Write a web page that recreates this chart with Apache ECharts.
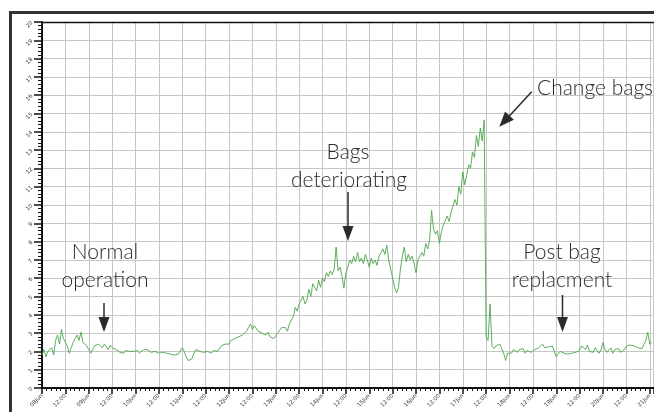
<!DOCTYPE html>
<html>
<head>
<meta charset="utf-8">
<script src="https://cdn.jsdelivr.net/npm/echarts@6/dist/echarts.min.js"></script>
<style>
html,body{margin:0;padding:0;background:#fff;}
#chart{width:654px;height:412px;}
</style>
</head>
<body>
<div id="chart"></div>
<script>
// Hourly readings, one array per day starting 08 Jun 00:00
const day08 = [1.8,2.1,1.7,2.0,1.9,2.2,1.8,2.6,2.9,2.4,3.2,2.7,2.5,2.3,1.9,2.2,2.5,2.7,2.9,2.6,3.05,2.5,2.4,2.3];
const day09 = [2.1,1.9,2.0,2.3,2.2,2.4,2.3,2.2,2.4,2.3,2.1,2.35,2.2,2.3,2.1,2.2,1.95,2.0,1.9,2.05,1.95,2.0,1.9,2.0];
const day10 = [1.95,2.05,1.9,2.0,2.1,2.15,2.1,2.0,1.95,1.9,2.0,1.95,1.9,2.0,1.95,2.0,1.9,1.95,1.85,1.8,1.8,1.75,1.85,1.8];
const day11 = [2.2,2.0,1.7,1.5,1.4,1.6,1.9,2.1,2.2,2.0,2.1,1.95,1.9,2.0,1.95,1.9,2.05,1.95,2.0,2.1,2.3,2.2,2.4,2.35];
const day12 = [2.4,2.6,2.5,2.7,2.6,2.8,2.7,2.9,2.8,3.1,3.3,3.5,3.2,3.4,3.3,3.1,3.2,3.0,3.1,2.9,3.05,2.8,2.9,2.7];
const day13 = [2.6,3.0,2.9,3.3,3.2,3.3,3.1,3.5,3.4,3.9,4.4,4.2,4.6,4.5,5.0,4.6,4.8,5.4,5.0,5.7,5.6,5.3,5.9,5.5];
const day14 = [6.0,5.8,6.3,6.1,6.4,6.2,6.5,7.7,6.4,6.6,6.1,5.45,6.3,6.6,7.0,6.8,7.2,6.9,7.4,6.9,7.1,6.8,7.3,7.0];
const day15 = [6.6,7.1,6.8,7.0,6.7,7.2,7.1,7.6,7.3,7.8,7.0,6.5,6.0,5.5,5.2,5.5,6.5,7.2,7.7,6.9,7.3,7.0,7.2,6.8];
const day16 = [6.3,7.0,6.9,7.4,7.2,7.9,7.6,8.1,9.7,8.7,8.4,8.6,7.9,8.5,8.9,8.8,9.4,9.1,9.6,9.5,10.3,10.0,11.0,10.6];
const day17 = [11.8,11.1,11.6,12.2,12.0,12.9,12.6,13.8,13.2,14.2,13.5,14.65,2.8,2.6,4.6,2.3,2.15,2.3,2.2,2.4,2.3,1.9,1.5,1.9];
const day18 = [2.0,1.9,2.1,2.05,1.95,2.1,2.0,2.15,1.9,2.05,2.1,1.95,2.0,2.1,2.05,2.2,2.1,2.4,2.2,2.3,2.25,2.15,2.3,2.2];
const day19 = [1.7,1.8,2.0,1.95,1.9,2.0,1.85,1.95,1.9,2.0,1.95,1.9,2.05,2.3,2.4,2.1,2.35,2.0,2.1,1.95,2.2,2.05,1.9,2.1];
const day20 = [2.5,2.1,1.95,2.05,2.2,1.9,2.1,2.0,2.15,1.95,2.05,2.1,2.3,2.4,2.35,2.45,2.3,2.4,2.2,2.25,2.15,2.2,2.6,3.05];
const day21 = [2.4,2.5];

const xTickLabels = ['08Jun','12:00','09Jun','12:00','10Jun','12:00','11Jun','12:00','12Jun','12:00','13Jun','12:00','14Jun','12:00','15Jun','12:00','16Jun','12:00','17Jun','12:00','18Jun','12:00','19Jun','12:00','20Jun','12:00','21Jun'];

const values = [].concat(day08,day09,day10,day11,day12,day13,day14,day15,day16,day17,day18,day19,day20,day21);
const seriesData = values.map((v,i)=>[i,v]);

const chart = echarts.init(document.getElementById('chart'), null, {renderer:'canvas'});
const txt = '300 21px Lato';
const dark = '#2b2b2b';
chart.setOption({
  animation:false,
  backgroundColor:'#fff',
  grid:{left:42,right:0,top:22,bottom:24,containLabel:false},
  xAxis:{
    type:'value',min:0,max:314,interval:12,
    axisLine:{show:true,onZero:false,lineStyle:{color:'#111',width:2}},
    axisTick:{show:true,length:6,lineStyle:{color:'#111',width:1.5}},
    minorTick:{show:true,splitNumber:5,length:3,lineStyle:{color:'#111',width:1}},
    axisLabel:{rotate:45,fontSize:5.5,color:'#333',margin:7,fontFamily:'DejaVu Sans',
      formatter:v=>xTickLabels[Math.round(v/12)]||''},
    splitLine:{show:true,lineStyle:{color:'#c6c6c6',width:1}}
  },
  yAxis:{
    type:'value',min:0,max:20,interval:1,
    axisLine:{show:true,lineStyle:{color:'#111',width:2}},
    axisTick:{show:true,length:8,lineStyle:{color:'#111',width:1.5}},
    minorTick:{show:true,splitNumber:5,length:4,lineStyle:{color:'#111',width:1}},
    axisLabel:{show:true,rotate:45,fontSize:5.5,color:'#333',margin:10,fontFamily:'DejaVu Sans'},
    splitLine:{show:true,lineStyle:{color:'#c6c6c6',width:1}}
  },
  series:[{
    type:'line',data:seriesData,showSymbol:false,symbol:'none',
    lineStyle:{color:'#4ea64a',width:1,opacity:0.9},
    z:3
  }],
  graphic:[
    {type:'rect',shape:{x:10.5,y:12.5,width:700,height:500},style:{fill:null,stroke:'#333',lineWidth:3},z:100},
    {type:'line',shape:{x1:42,y1:22.5,x2:654,y2:22.5},style:{stroke:'#111',lineWidth:1.5},z:100},
    // Normal operation
    {type:'text',style:{text:'Normal',x:105,y:252,textAlign:'center',textVerticalAlign:'middle',font:txt,fill:dark},z:100},
    {type:'text',style:{text:'operation',x:105,y:280,textAlign:'center',textVerticalAlign:'middle',font:txt,fill:dark},z:100},
    {type:'line',shape:{x1:104,y1:303,x2:104,y2:320},style:{stroke:dark,lineWidth:1.5},z:100},
    {type:'polygon',shape:{points:[[98.5,317],[109.5,317],[104,332]]},style:{fill:dark},z:100},
    // Bags deteriorating
    {type:'text',style:{text:'Bags',x:348,y:152,textAlign:'center',textVerticalAlign:'middle',font:txt,fill:dark},z:100},
    {type:'text',style:{text:'deteriorating',x:349,y:180,textAlign:'center',textVerticalAlign:'middle',font:txt,fill:dark},z:100},
    {type:'line',shape:{x1:348,y1:192,x2:348,y2:230},style:{stroke:dark,lineWidth:1.5},z:100},
    {type:'polygon',shape:{points:[[342.5,226],[353.5,226],[348,241]]},style:{fill:dark},z:100},
    // Change bags
    {type:'text',style:{text:'Change bags',x:595,y:88,textAlign:'center',textVerticalAlign:'middle',font:txt,fill:dark},z:100},
    {type:'line',shape:{x1:531.7,y1:91.7,x2:507,y2:118.5},style:{stroke:dark,lineWidth:1.5},z:100},
    {type:'polygon',shape:{points:[[513.9,119.8],[505.1,111.6],[499.3,126.7]]},style:{fill:dark},z:100},
    // Post bag replacment
    {type:'text',style:{text:'Post bag',x:562,y:252,textAlign:'center',textVerticalAlign:'middle',font:txt,fill:dark},z:100},
    {type:'text',style:{text:'replacment',x:562,y:280,textAlign:'center',textVerticalAlign:'middle',font:txt,fill:dark},z:100},
    {type:'line',shape:{x1:562.5,y1:295,x2:562.5,y2:320},style:{stroke:dark,lineWidth:1.5},z:100},
    {type:'polygon',shape:{points:[[557,317],[568,317],[562.5,332]]},style:{fill:dark},z:100}
  ]
});
</script>
</body>
</html>
